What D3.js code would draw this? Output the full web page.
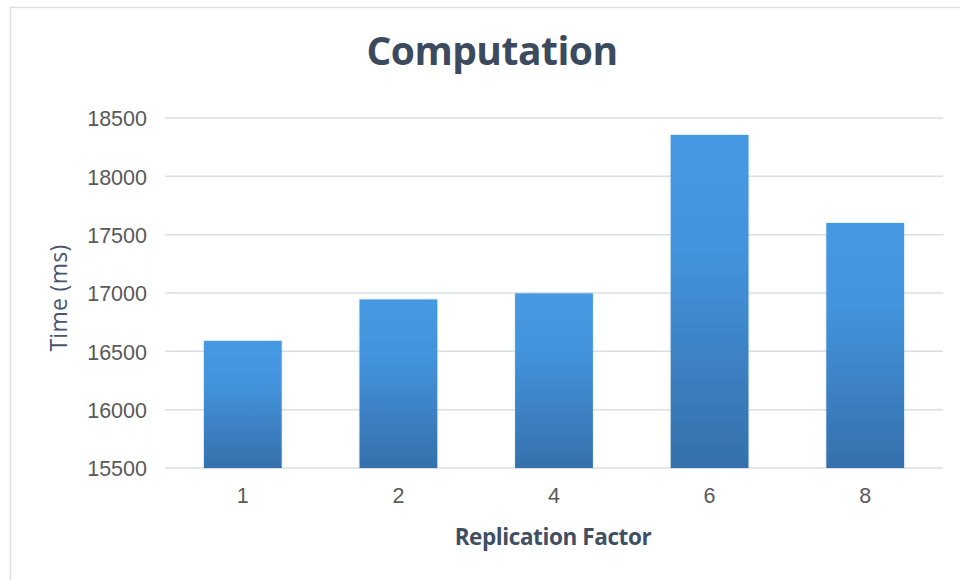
<!DOCTYPE html>
<html><head><meta charset="utf-8">
<script src="https://cdn.jsdelivr.net/npm/d3@7"></script>
<style>body{margin:0;background:#fff;}svg{display:block;}</style>
</head><body>
<svg id="c" width="960" height="580"></svg>
<script>
const categories = ["1", "2", "4", "6", "8"];
const values = [16590, 16945, 16997, 18355, 17600];
const yTicks = [15500, 16000, 16500, 17000, 17500, 18000, 18500];
const title = "Computation";
const xTitle = "Replication Factor";
const yTitle = "Time (ms)";

const svg = d3.select("#c");
const W = 960, H = 580;
const m = {left: 165, right: 943, top: 118, bottom: 468};

// frame
svg.append("rect").attr("x", 10.5).attr("y", 7.5).attr("width", 960).attr("height", 580)
  .attr("fill", "#fff").attr("stroke", "#dde1e6").attr("stroke-width", 1.5);

const defs = svg.append("defs");
const grad = defs.append("linearGradient").attr("id", "bg").attr("x1", 0).attr("y1", 0).attr("x2", 0).attr("y2", 1);
grad.append("stop").attr("offset", "0%").attr("stop-color", "#4599e2");
grad.append("stop").attr("offset", "35%").attr("stop-color", "#4393dc");
grad.append("stop").attr("offset", "100%").attr("stop-color", "#3570ab");
const f = defs.append("filter").attr("id", "glow").attr("x", "-10%").attr("y", "-10%").attr("width", "120%").attr("height", "120%");
f.append("feGaussianBlur").attr("in", "SourceAlpha").attr("stdDeviation", 1.2).attr("result", "b");
f.append("feFlood").attr("flood-color", "#9cc6ee").attr("flood-opacity", 0.6);
f.append("feComposite").attr("in2", "b").attr("operator", "in").attr("result", "s");
const fm = f.append("feMerge"); fm.append("feMergeNode").attr("in", "s"); fm.append("feMergeNode").attr("in", "SourceGraphic");

const x = d3.scaleBand().domain(categories).range([m.left, m.right]).paddingInner(0.5).paddingOuter(0.25);
const y = d3.scaleLinear().domain([15500, 18500]).range([m.bottom, m.top]);

// grid
svg.append("g").selectAll("line").data(yTicks).join("line")
  .attr("x1", m.left).attr("x2", m.right)
  .attr("y1", d => y(d)).attr("y2", d => y(d))
  .attr("stroke", "#dadee4").attr("stroke-width", 1.5);

// y axis labels
const yAxis = d3.axisLeft(y).tickValues(yTicks).tickSize(0).tickPadding(18).tickFormat(d3.format("d"));
const gy = svg.append("g").attr("transform", `translate(${m.left},0)`).call(yAxis);
gy.select(".domain").remove();
gy.selectAll("text").attr("font-family", "Liberation Sans, Arial, sans-serif").attr("font-size", 21.5).attr("fill", "#595959").attr("dy", "0.36em");

// bars
svg.append("g").selectAll("rect").data(values).join("rect")
  .attr("x", (d, i) => x(categories[i]))
  .attr("width", x.bandwidth())
  .attr("y", d => y(d))
  .attr("height", d => y(15500) - y(d))
  .attr("fill", "url(#bg)").attr("filter", "url(#glow)");

// x axis labels
const xAxis = d3.axisBottom(x).tickSize(0).tickPadding(20);
const gx = svg.append("g").attr("transform", `translate(0,${m.bottom})`).call(xAxis);
gx.select(".domain").remove();
gx.selectAll("text").attr("font-family", "Liberation Sans, Arial, sans-serif").attr("font-size", 21.5).attr("fill", "#595959");

// titles
svg.append("text").attr("x", 492).attr("y", 65).attr("text-anchor", "middle")
  .attr("font-family", "Open Sans, sans-serif").attr("font-weight", "bold").attr("font-size", 39)
  .attr("fill", "#3c4a5d").attr("letter-spacing", -0.5).text(title);
svg.append("text").attr("x", 553).attr("y", 545).attr("text-anchor", "middle")
  .attr("font-family", "Open Sans, sans-serif").attr("font-weight", "bold").attr("font-size", 22.5)
  .attr("fill", "#404f63").attr("letter-spacing", -0.4).text(xTitle);
svg.append("text").attr("transform", "translate(67,298) rotate(-90)").attr("text-anchor", "middle")
  .attr("font-family", "Open Sans, sans-serif").attr("font-size", 23)
  .attr("fill", "#485670").attr("letter-spacing", 0.3).text(yTitle);
</script>
</body></html>
